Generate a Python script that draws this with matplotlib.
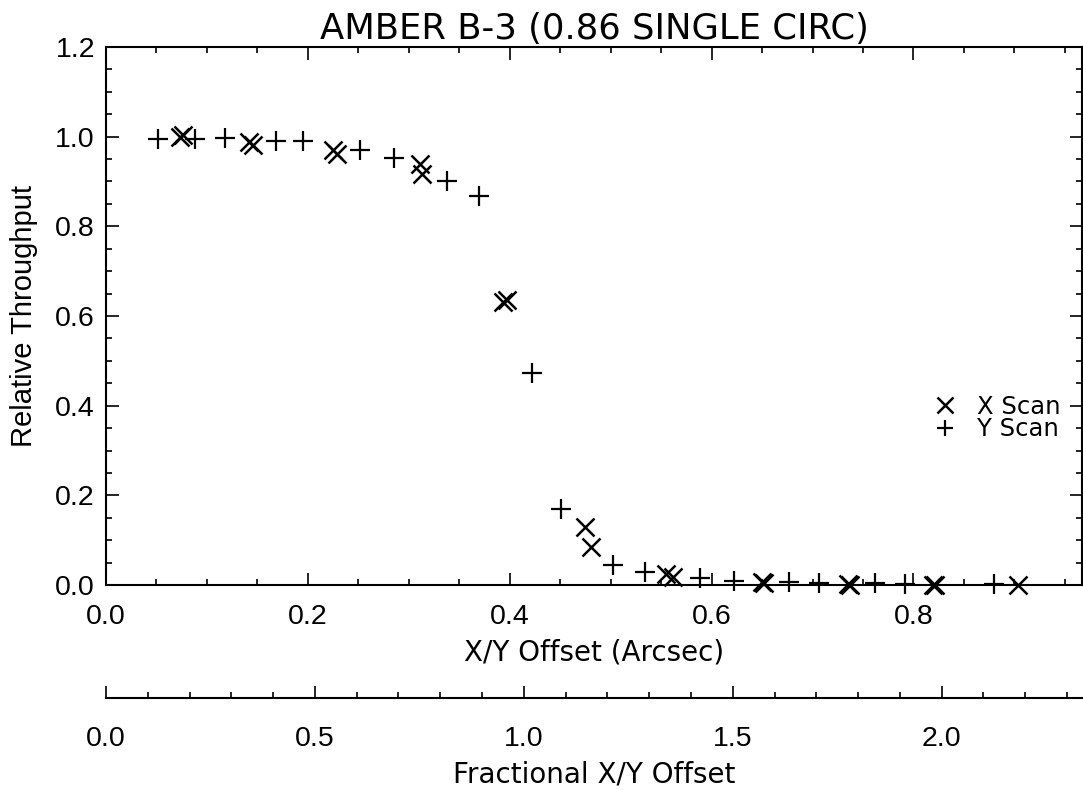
import matplotlib
matplotlib.use("Agg")
import matplotlib.pyplot as plt
from matplotlib.ticker import MultipleLocator

# ---- data ----
title = "AMBER B-3 (0.86 SINGLE CIRC)"
x_label = "X/Y Offset (Arcsec)"
x2_label = "Fractional X/Y Offset"
y_label = "Relative Throughput"

x_scan_off = [0.073, 0.076, 0.142, 0.146, 0.225, 0.229, 0.311, 0.313, 0.393, 0.397,
              0.475, 0.481, 0.555, 0.562, 0.650, 0.652, 0.735, 0.737, 0.819, 0.821, 0.904]
x_scan_thr = [1.000, 1.003, 0.988, 0.982, 0.970, 0.962, 0.938, 0.916, 0.632, 0.636,
              0.130, 0.085, 0.025, 0.017, 0.006, 0.004, 0.002, 0.000, 0.000, 0.000, 0.000]

y_scan_off = [0.052, 0.088, 0.118, 0.168, 0.195, 0.252, 0.285, 0.338, 0.370, 0.422,
              0.451, 0.502, 0.534, 0.589, 0.622, 0.677, 0.706, 0.762, 0.792, 0.880]
y_scan_thr = [0.995, 0.995, 0.997, 0.990, 0.990, 0.970, 0.953, 0.900, 0.868, 0.473,
              0.170, 0.045, 0.028, 0.016, 0.010, 0.006, 0.005, 0.004, 0.003, 0.002]

x_ticks = [0.0, 0.2, 0.4, 0.6, 0.8]
x2_ticks = [0.0, 0.5, 1.0, 1.5, 2.0]

x_max = 0.967          # arcsec at right frame
frac_per_arcsec = 1 / 0.414

W, H = 1083, 790
fig = plt.figure(figsize=(W / 100, H / 100), dpi=100)

helv = ["Liberation Sans", "DejaVu Sans"]
thin = ["DejaVu Sans"]

L, R, T, B = 106, 1082, 47, 585
ax = fig.add_axes([L / W, 1 - B / H, (R - L) / W, (B - T) / H])

ax.plot(x_scan_off, x_scan_thr, linestyle="none", marker="x", color="black",
        markersize=13, markeredgewidth=1.8, clip_on=False, label="X Scan")
ax.plot(y_scan_off, y_scan_thr, linestyle="none", marker="+", color="black",
        markersize=14, markeredgewidth=1.6, clip_on=False, label="Y Scan")

ax.set_xlim(0, x_max)
ax.set_ylim(0, 1.2)
ax.xaxis.set_major_locator(MultipleLocator(0.2))
ax.xaxis.set_minor_locator(MultipleLocator(0.05))
ax.yaxis.set_major_locator(MultipleLocator(0.2))
ax.yaxis.set_minor_locator(MultipleLocator(0.05))
ax.tick_params(which="both", direction="in", top=True, right=True, width=1.2, color="black")
ax.tick_params(which="major", length=9)
ax.tick_params(which="minor", length=4.5)
ax.tick_params(axis="x", which="major", pad=14, labelsize=20.5)
ax.tick_params(axis="y", which="major", pad=8, labelsize=20.5)
ax.set_xticks(x_ticks)
ax.set_xticklabels([f"{v:.1f}" for v in x_ticks])
for lbl in ax.get_xticklabels() + ax.get_yticklabels():
    lbl.set_family(helv)
for s in ax.spines.values():
    s.set_linewidth(1.5)

ax.set_ylabel(y_label, fontsize=21, family=helv, labelpad=12)
ax.set_xlabel(x_label, fontsize=20, family=thin, labelpad=6)
ax.set_title(title, fontsize=25.5, family=thin, pad=6)

leg = ax.legend(loc="upper left", bbox_to_anchor=(0.838, 0.372), frameon=False,
                handlelength=0.9, handletextpad=0.9, labelspacing=-0.05,
                markerscale=0.85, borderaxespad=0, prop={"family": thin, "size": 17.5})

# secondary fractional axis
Y2 = 698
ax2 = fig.add_axes([L / W, 1 - Y2 / H, (R - L) / W, 0.001])
ax2.set_xlim(0, x_max * frac_per_arcsec)
ax2.set_ylim(0, 1)
for side in ["top", "left", "right"]:
    ax2.spines[side].set_visible(False)
ax2.spines["bottom"].set_linewidth(1.5)
ax2.set_yticks([])
ax2.xaxis.set_major_locator(MultipleLocator(0.5))
ax2.xaxis.set_minor_locator(MultipleLocator(0.1))
ax2.tick_params(which="both", direction="in", width=1.2)
ax2.tick_params(which="major", length=9, pad=20, labelsize=20.5)
ax2.tick_params(which="minor", length=4.5)
ax2.set_xticks(x2_ticks)
ax2.set_xticklabels([f"{v:.1f}" for v in x2_ticks])
for lbl in ax2.get_xticklabels():
    lbl.set_family(helv)
ax2.set_xlabel(x2_label, fontsize=20, family=thin, labelpad=6)
ax2.patch.set_alpha(0)

fig.savefig("out.png", dpi=100)
